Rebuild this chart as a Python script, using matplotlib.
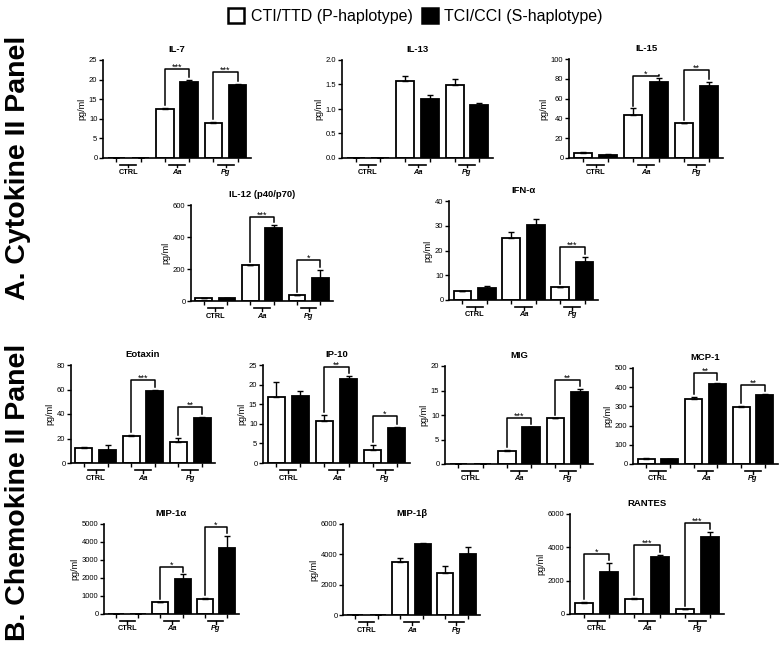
import numpy as np
import matplotlib
matplotlib.use('Agg')
import matplotlib.pyplot as plt
from matplotlib.patches import Patch
from matplotlib import transforms

plt.rcParams['font.family'] = ['Liberation Sans', 'DejaVu Sans']

groups = ['CTRL', 'Aa', 'Pg']
legend_labels = ['CTI/TTD (P-haplotype)', 'TCI/CCI (S-haplotype)']

# ---- A. Cytokine II panel (P = white bars, S = black bars) ----
il7_p = [0, 12.5, 8.9]
il7_p_err = [0, 0.3, 0.2]
il7_s = [0, 19.3, 18.7]
il7_s_err = [0, 0.5, 0.2]
il7_stars = ['', '***', '***']
il7_bracket = [0, 22.7, 21.9]

il13_p = [0, 1.57, 1.48]
il13_p_err = [0, 0.1, 0.13]
il13_s = [0, 1.21, 1.09]
il13_s_err = [0, 0.08, 0.03]
il13_stars = ['', '', '']
il13_bracket = [0, 0, 0]

il15_p = [5, 43, 35]
il15_p_err = [1.5, 7, 0.5]
il15_s = [3.5, 77, 73]
il15_s_err = [0.3, 4, 4]
il15_stars = ['', '*', '**']
il15_bracket = [0, 83, 88.5]

il12_p = [18, 222, 35]
il12_p_err = [2, 5, 3]
il12_s = [18, 455, 143]
il12_s_err = [2, 20, 50]
il12_stars = ['', '***', '*']
il12_bracket = [0, 523, 256]

ifna_p = [3.5, 25.2, 5.2]
ifna_p_err = [0.3, 2.2, 0.2]
ifna_s = [5.0, 30.3, 15.5]
ifna_s_err = [0.5, 2.5, 1.8]
ifna_stars = ['', '', '***']
ifna_bracket = [0, 0, 21.3]

# ---- B. Chemokine II panel ----
eot_p = [12.5, 22, 17.5]
eot_p_err = [0.2, 0.8, 3]
eot_s = [10.5, 58.5, 36.5]
eot_s_err = [4.5, 1.5, 1]
eot_stars = ['', '***', '**']
eot_bracket = [0, 67.7, 45.5]

ip10_p = [16.8, 10.8, 3.3]
ip10_p_err = [3.8, 1.5, 1.3]
ip10_s = [17.1, 21.5, 8.9]
ip10_s_err = [1.2, 0.6, 0.4]
ip10_stars = ['', '**', '*']
ip10_bracket = [0, 24.4, 12.0]

mig_p = [0.1, 2.6, 9.3]
mig_p_err = [0, 0.2, 0.1]
mig_s = [0, 7.6, 14.6]
mig_s_err = [0, 0, 0.7]
mig_stars = ['', '***', '**']
mig_bracket = [0, 9.4, 17.1]

mcp1_p = [28, 340, 295]
mcp1_p_err = [3, 7, 7]
mcp1_s = [25, 418, 358]
mcp1_s_err = [3, 5, 7]
mcp1_stars = ['', '**', '**']
mcp1_bracket = [0, 472, 411]

mip1a_p = [0, 650, 850]
mip1a_p_err = [0, 30, 40]
mip1a_s = [0, 1920, 3650]
mip1a_s_err = [0, 280, 700]
mip1a_stars = ['', '*', '*']
mip1a_bracket = [0, 2594, 4817]

mip1b_p = [0, 3500, 2800]
mip1b_p_err = [0, 250, 400]
mip1b_s = [0, 4700, 4050]
mip1b_s_err = [0, 50, 450]
mip1b_stars = ['', '', '']
mip1b_bracket = [0, 0, 0]

rantes_p = [650, 900, 280]
rantes_p_err = [60, 50, 30]
rantes_s = [2500, 3450, 4650]
rantes_s_err = [550, 100, 250]
rantes_stars = ['*', '***', '***']
rantes_bracket = [3600, 4140, 5440]

W, H = 781, 652


def rect(x0, x1, y0, y1):
    # pixel box -> figure fraction
    return [x0 / W, 1 - y1 / H, (x1 - x0) / W, (y1 - y0) / H]


panels = [
    ('IL-7', 25, 5, il7_p, il7_p_err, il7_s, il7_s_err, il7_stars, il7_bracket, rect(103, 251, 60, 158)),
    ('IL-13', 2.0, 0.5, il13_p, il13_p_err, il13_s, il13_s_err, il13_stars, il13_bracket, rect(342, 493, 60, 158)),
    ('IL-15', 100, 20, il15_p, il15_p_err, il15_s, il15_s_err, il15_stars, il15_bracket, rect(569, 723, 59, 158)),
    ('IL-12 (p40/p70)', 600, 200, il12_p, il12_p_err, il12_s, il12_s_err, il12_stars, il12_bracket, rect(191, 333, 205, 301)),
    ('IFN-\u03b1', 40, 10, ifna_p, ifna_p_err, ifna_s, ifna_s_err, ifna_stars, ifna_bracket, rect(449, 598, 201, 300)),
    ('Eotaxin', 80, 20, eot_p, eot_p_err, eot_s, eot_s_err, eot_stars, eot_bracket, rect(71, 215, 365, 463)),
    ('IP-10', 25, 5, ip10_p, ip10_p_err, ip10_s, ip10_s_err, ip10_stars, ip10_bracket, rect(263, 410, 365, 463)),
    ('MIG', 20, 5, mig_p, mig_p_err, mig_s, mig_s_err, mig_stars, mig_bracket, rect(445, 593, 366, 464)),
    ('MCP-1', 500, 100, mcp1_p, mcp1_p_err, mcp1_s, mcp1_s_err, mcp1_stars, mcp1_bracket, rect(633, 778, 368, 464)),
    ('MIP-1\u03b1', 5000, 1000, mip1a_p, mip1a_p_err, mip1a_s, mip1a_s_err, mip1a_stars, mip1a_bracket, rect(104, 239, 524, 614)),
    ('MIP-1\u03b2', 6000, 2000, mip1b_p, mip1b_p_err, mip1b_s, mip1b_s_err, mip1b_stars, mip1b_bracket, rect(343, 480, 524, 615)),
    ('RANTES', 6000, 2000, rantes_p, rantes_p_err, rantes_s, rantes_s_err, rantes_stars, rantes_bracket, rect(570, 724, 514, 614)),
]

fig = plt.figure(figsize=(W / 100, H / 100), dpi=100)


def draw_panel(title, ymax, step, p, pe, s, se, stars, bracket, box):
    ax = fig.add_axes(box)
    xp = [2 * i for i in range(3)]
    xs = [2 * i + 1 for i in range(3)]
    ekw = dict(ecolor='black', elinewidth=1.0, capsize=2.5, capthick=1.0)
    ax.bar(xp, p, width=0.72, color='white', edgecolor='black', linewidth=1.3,
           yerr=[[0] * 3, pe], error_kw=ekw)
    ax.bar(xs, s, width=0.72, color='black', edgecolor='black', linewidth=1.3,
           yerr=[[0] * 3, se], error_kw=ekw)

    ax.set_xlim(-0.55, 5.55)
    ax.set_ylim(0, ymax)
    ax.set_yticks(np.arange(0, ymax + step / 2, step))
    ax.set_xticks(range(6))
    ax.set_xticklabels([])
    for sp in ['top', 'right']:
        ax.spines[sp].set_visible(False)
    for sp in ['left', 'bottom']:
        ax.spines[sp].set_linewidth(1.2)
    ax.tick_params(axis='y', length=3, width=1.0, labelsize=5.5, pad=1)
    ax.tick_params(axis='x', length=3, width=1.0)
    ax.set_ylabel('pg/ml', fontsize=6.5, labelpad=2)
    ax.set_title(title, fontsize=6.8, fontweight='bold', pad=6)

    # group labels under the axis (x in data, y in inches)
    blend = transforms.blended_transform_factory(ax.transData, fig.dpi_scale_trans)
    yb = box[1] * H / 100
    for i, g in enumerate(groups):
        cx = 2 * i + 0.5
        ax.plot([cx - 0.33, cx + 0.33], [yb - 0.065, yb - 0.065], transform=blend,
                color='black', lw=1.2, clip_on=False)
        ax.plot([cx, cx], [yb - 0.065, yb - 0.095], transform=blend,
                color='black', lw=1.0, clip_on=False)
        ax.text(cx, yb - 0.15, g, transform=blend, ha='center', va='center',
                fontsize=5.3, fontweight='bold',
                fontstyle='normal' if g == 'CTRL' else 'italic')

    # significance brackets
    for i, lab in enumerate(stars):
        if not lab:
            continue
        gap = 0.03 * ymax
        h = bracket[i]
        ax.plot([2 * i, 2 * i, 2 * i + 1, 2 * i + 1],
                [p[i] + pe[i] + gap, h, h, s[i] + se[i] + gap],
                color='black', lw=1.1, clip_on=False)
        ax.annotate(lab, (2 * i + 0.5, h), xytext=(0, -0.3), textcoords='offset points',
                    ha='center', va='baseline', fontsize=6.5)
    return ax


for pan in panels:
    draw_panel(*pan)

handles = [Patch(facecolor='white', edgecolor='black', linewidth=1.8),
           Patch(facecolor='black', edgecolor='black', linewidth=1.8)]
fig.legend(handles, legend_labels, loc='center', bbox_to_anchor=(0.532, 0.975),
           ncol=2, frameon=False, fontsize=11.5, handlelength=1.0, handleheight=1.0,
           handletextpad=0.4, columnspacing=0.6)

fig.text(0.023, 1 - 168 / H, 'A. Cytokine II Panel', rotation=90, ha='center', va='center',
         fontsize=20.5, fontweight='bold')
fig.text(0.023, 1 - 492 / H, 'B. Chemokine II Panel', rotation=90, ha='center', va='center',
         fontsize=20.5, fontweight='bold')

fig.savefig('out.png', dpi=100)
